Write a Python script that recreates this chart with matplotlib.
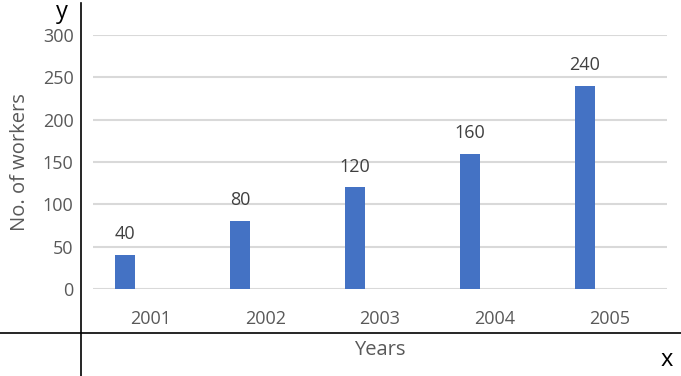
import matplotlib.pyplot as plt
from matplotlib.lines import Line2D

years = ['2001', '2002', '2003', '2004', '2005']
workers = [40, 80, 120, 160, 240]
yticks = [0, 50, 100, 150, 200, 250, 300]

W, H = 681, 376
fig = plt.figure(figsize=(W / 100, H / 100), dpi=100)
plt.rcParams['font.family'] = ['Open Sans', 'DejaVu Sans']

# plot area in pixels: x 93..667, y 35(300)..289(0)
ax = fig.add_axes([93 / W, (H - 289) / H, (667 - 93) / W, (289 - 35) / H])
x = list(range(len(years)))
xpos = [i - 0.218 for i in x]
bars = ax.bar(xpos, workers, width=0.175, color='#4472C4', zorder=3)
for xp, v in zip(xpos, workers):
    ax.annotate(str(v), (xp, v), xytext=(0, 8.5), textcoords='offset points',
                ha='center', va='bottom', fontsize=13, color='#404040')

ax.set_xlim(-0.5, len(years) - 0.5)
ax.set_ylim(0, 300)
ax.set_yticks(yticks)
ax.set_yticklabels([str(t) for t in yticks], fontsize=13, color='#595959')
ax.set_xticks(x)
ax.set_xticklabels(years, fontsize=13, color='#595959')
ax.tick_params(axis='both', length=0)
ax.tick_params(axis='y', pad=14)
ax.tick_params(axis='x', pad=15)
ax.grid(axis='y', color='#D9D9D9', linewidth=1.5, zorder=0)
for s in ax.spines.values():
    s.set_visible(False)

# outer axis lines
fig.add_artist(Line2D([0, 1], [(H - 333) / H] * 2, color='black', linewidth=1.2,
                      transform=fig.transFigure))
fig.add_artist(Line2D([81 / W] * 2, [0, (H - 3) / H], color='black', linewidth=1.2,
                      transform=fig.transFigure))

fig.text(62 / W, (H - 12) / H, 'y', fontsize=17, ha='center', va='center', color='black')
fig.text(667 / W, (H - 360) / H, 'x', fontsize=17, ha='center', va='center', color='black')
fig.text(380 / W, (H - 350) / H, 'Years', fontsize=14.5, ha='center', va='center', color='#595959')
fig.text(20 / W, (H - 162) / H, 'No. of workers', fontsize=14.5, ha='center', va='center',
         rotation=90, color='#595959')

fig.savefig('out.png', dpi=100)
